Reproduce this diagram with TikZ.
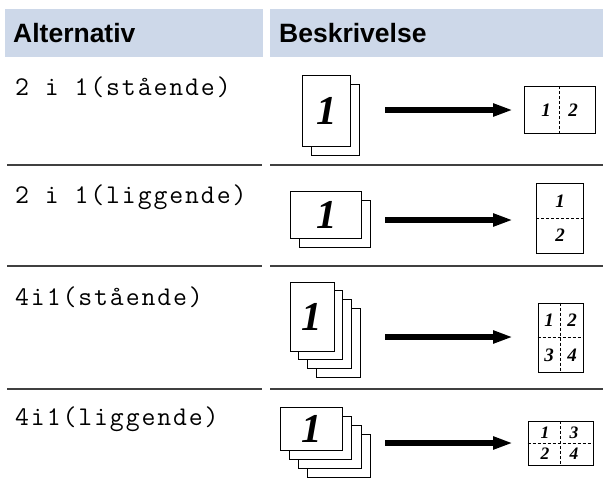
\documentclass[tikz,border=0pt]{standalone}
\usepackage{fontspec}
\setmainfont{Liberation Serif}
\newfontfamily\optfont{Latin Modern Mono}[LetterSpace=7]
\newfontfamily\headfont{Liberation Sans}
\usetikzlibrary{arrows.meta}
\definecolor{hdblue}{RGB}{205,216,233}
\definecolor{rulegray}{RGB}{64,64,64}

\begin{document}
\begin{tikzpicture}[x=1pt,y=-1pt,
    page/.style={draw,fill=white,line width=.9pt,inner sep=0pt},
    bignum/.style={font=\fontsize{41}{41}\selectfont\bfseries\itshape},
    smallnum/.style={inner sep=0pt,font=\fontsize{19}{19}\selectfont\bfseries\itshape},
    fold/.style={dash pattern=on 3pt off 2pt,line width=.7pt},
    opt/.style={anchor=base west,inner sep=0pt,font=\fontsize{27}{27}\selectfont\optfont},
    hd/.style={anchor=base west,inner sep=0pt,font=\fontsize{26.5}{27}\selectfont\headfont\bfseries},
    bigarrow/.style={line width=6.5pt,-{Triangle[length=20pt,width=12pt]}},
    rowrule/.style={rulegray,line width=1.1pt}]
    \useasboundingbox (0,0) rectangle (603,479);
    % header
    \fill[hdblue] (5,9) rectangle (262.7,57);
    \fill[hdblue] (270,9) rectangle (603,57);
    \node[hd] (hAlt) at (13,42) {Alternativ};
    \node[hd] (hBes) at (279,42) {Beskrivelse};
    % row rules
    \draw[rowrule] (7,165) -- (262,165); \draw[rowrule] (270,165) -- (603,165);
    \draw[rowrule] (7,266) -- (262,266); \draw[rowrule] (270,266) -- (603,266);
    \draw[rowrule] (7,389) -- (262,389); \draw[rowrule] (270,389) -- (603,389);
    % options
    \node[opt] (o1) at (15,95) {2 i 1(stående)};
    \node[opt] (o2) at (15,203) {2 i 1(liggende)};
    \node[opt] (o3) at (15,305) {4i1(stående)};
    \node[opt] (o4) at (15,425) {4i1(liggende)};
    % 2 i 1 (staaende)
    \node[page,minimum width=48pt,minimum height=71pt] (s1b) at (335.7,119.5) {};
    \node[page,minimum width=48pt,minimum height=71pt,bignum] (s1) at (326.7,110.5) {1};
    \coordinate (a1s) at (385,110); \coordinate (a1e) at (513,110);
    \draw[bigarrow] (a1s) -- (a1e);
    \node[page,minimum width=71pt,minimum height=47pt] (t1) at (559.5,110.4) {};
    \draw[fold] (t1.north) -- (t1.south);
    \node[smallnum] (t1a) at (546,110.4) {1}; \node[smallnum] (t1b) at (573,110.4) {2};
    % 2 i 1 (liggende)
    \node[page,minimum width=71pt,minimum height=47pt] (s2b) at (335.3,224.3) {};
    \node[page,minimum width=71pt,minimum height=47pt,bignum] (s2) at (326.3,215.3) {1};
    \coordinate (a2s) at (385,220); \coordinate (a2e) at (513,220);
    \draw[bigarrow] (a2s) -- (a2e);
    \node[page,minimum width=46.5pt,minimum height=70pt] (t2) at (560,218) {};
    \draw[fold] (t2.west) -- (t2.east);
    \node[smallnum] (t2a) at (560,201) {1}; \node[smallnum] (t2b) at (560,235) {2};
    % 4i1 (staaende)
    \node[page,minimum width=44pt,minimum height=69pt] (s3d) at (338.1,342.6) {};
    \node[page,minimum width=44pt,minimum height=69pt] (s3c) at (329.4,333.9) {};
    \node[page,minimum width=44pt,minimum height=69pt] (s3b) at (320.7,325.2) {};
    \node[page,minimum width=44pt,minimum height=69pt,bignum] (s3) at (312,316.5) {1};
    \coordinate (a3s) at (385,337); \coordinate (a3e) at (513,337);
    \draw[bigarrow] (a3s) -- (a3e);
    \node[page,minimum width=45pt,minimum height=69pt] (t3) at (560.5,337.5) {};
    \draw[fold] (t3.north) -- (t3.south); \draw[fold] (t3.west) -- (t3.east);
    \node[smallnum] (t3a) at (549,320) {1}; \node[smallnum] (t3b) at (572,320) {2};
    \node[smallnum] (t3c) at (549,355) {3}; \node[smallnum] (t3d) at (572,355) {4};
    % 4i1 (liggende)
    \node[page,minimum width=62.7pt,minimum height=43pt] (s4d) at (338.9,456.1) {};
    \node[page,minimum width=62.7pt,minimum height=43pt] (s4c) at (329.7,446.9) {};
    \node[page,minimum width=62.7pt,minimum height=43pt] (s4b) at (320.5,437.7) {};
    \node[page,minimum width=62.7pt,minimum height=43pt,bignum] (s4) at (311.3,428.5) {1};
    \coordinate (a4s) at (385,443); \coordinate (a4e) at (513,443);
    \draw[bigarrow] (a4s) -- (a4e);
    \node[page,minimum width=65pt,minimum height=43.3pt] (t4) at (560.5,443.3) {};
    \draw[fold] (t4.north) -- (t4.south); \draw[fold] (t4.west) -- (t4.east);
    \node[smallnum,font=\fontsize{17.5}{17.5}\selectfont\bfseries\itshape] (t4a) at (545,433) {1};
    \node[smallnum,font=\fontsize{17.5}{17.5}\selectfont\bfseries\itshape] (t4b) at (574,433) {3};
    \node[smallnum,font=\fontsize{17.5}{17.5}\selectfont\bfseries\itshape] (t4c) at (545,454) {2};
    \node[smallnum,font=\fontsize{17.5}{17.5}\selectfont\bfseries\itshape] (t4d) at (574,454) {4};
\end{tikzpicture}
\end{document}
